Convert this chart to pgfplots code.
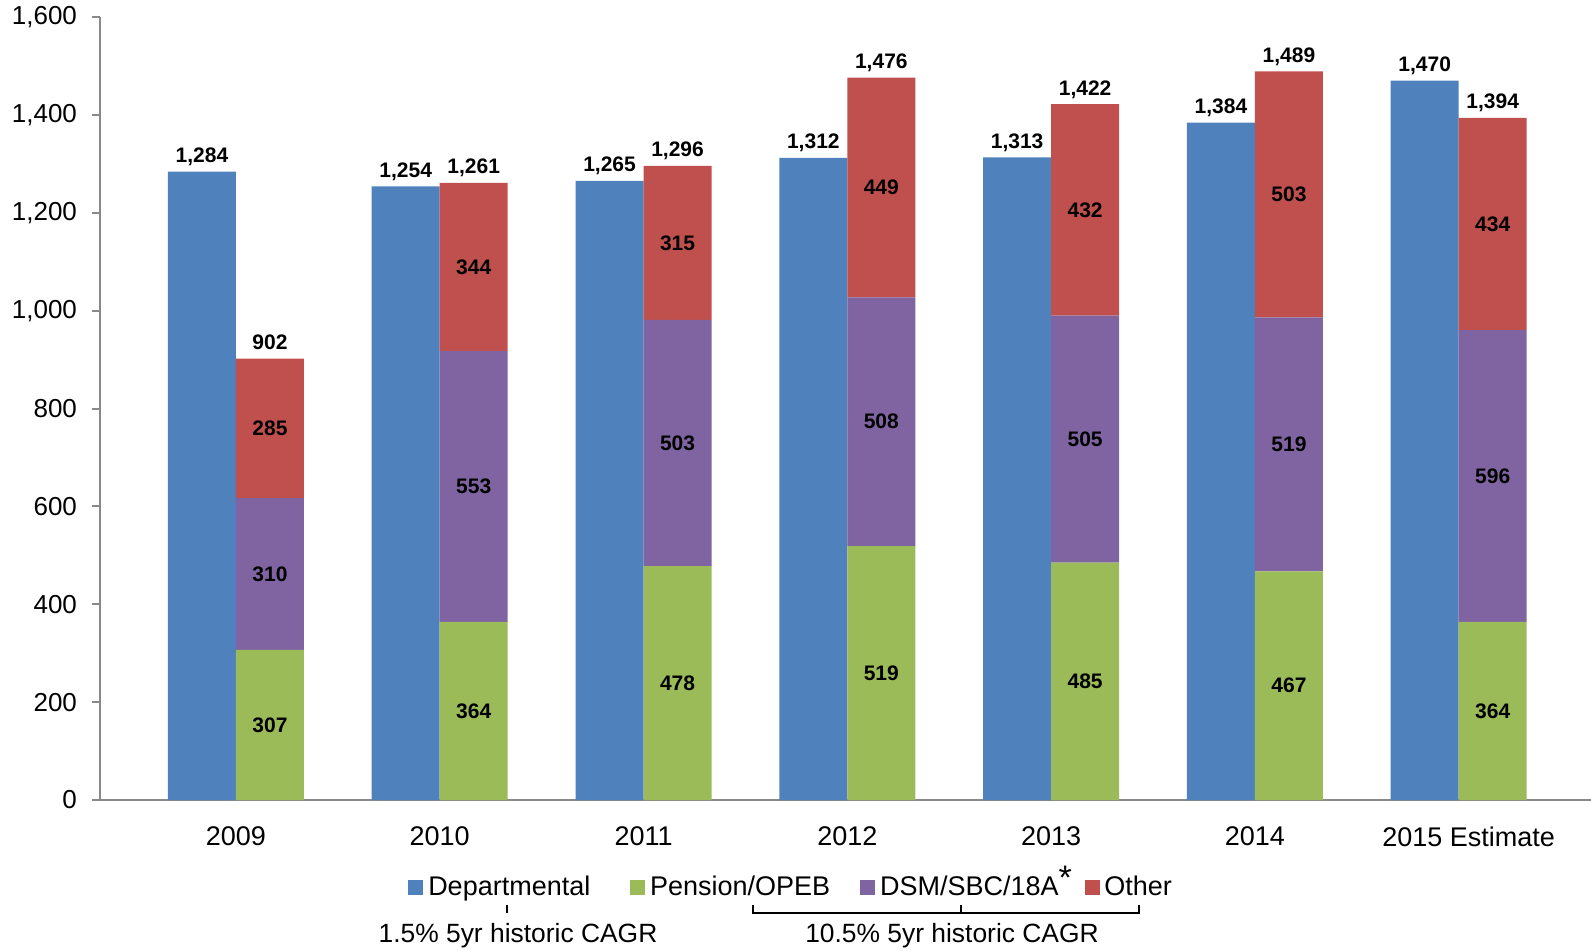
\documentclass[border=0pt]{standalone}
\usepackage{fontspec}
\setmainfont{Liberation Sans}
\usepackage{pgfplots}
\pgfplotsset{compat=1.18}
\definecolor{c1}{HTML}{4F81BD}
\definecolor{c2}{HTML}{9BBB59}
\definecolor{c3}{HTML}{8064A2}
\definecolor{c4}{HTML}{C0504D}
\definecolor{axgray}{HTML}{898989}
\pgfkeys{/pgf/number format/.cd, assume math mode=true, fixed, precision=0, 1000 sep={,}}
\newcommand{\lbl}{\fontsize{10.5}{12}\selectfont\bfseries}
\newcommand{\txt}{\fontsize{13.5}{16}\selectfont}
\newcommand{\ctxt}{\fontsize{13.2}{16}\selectfont}
\newcommand{\ytxt}{\fontsize{13}{15}\selectfont}
\pgfplotsset{
  base/.style={
    at={(0pt,0pt)}, anchor=south west,
    scale only axis, width=745.5pt, height=391.5pt,
    xmin=-0.667, xmax=6.649, ymin=0, ymax=1600,
    enlargelimits=false, clip=false,
  },
  sq/.style={legend image code/.code={\fill[#1] (0pt,-3.5pt) rectangle (7pt,3.5pt);}},
}
\begin{document}
\begin{tikzpicture}
% Departmental bars + visible axes
\begin{axis}[base,
  ybar, bar width=34pt,
  axis x line*=bottom, axis y line*=left,
  axis line style={axgray, line width=1pt},
  ytick={0,200,...,1600},
  ytick style={axgray, line width=1pt},
  tick align=outside, major tick length=4pt,
  xtick={0,1,2,3,4,5,6.049},
  xticklabels={2009,2010,2011,2012,2013,2014,2015 Estimate},
  xtick style={draw=none},
  xticklabel style={font=\txt, yshift=-5.8pt},
  yticklabel style={font=\ytxt, xshift=-4pt},
]
\addplot[ybar, fill=c1, draw=none, bar shift=-17pt] coordinates {(0,1284)(1,1254)(2,1265)(3,1312)(4,1313)(5,1384)(6,1470)};
\end{axis}
% Stacked bars
\begin{axis}[base, hide axis, ybar stacked, bar width=34pt]
\addplot[fill=c2, draw=none, bar shift=17pt] coordinates {(0,307)(1,364)(2,478)(3,519)(4,485)(5,467)(6,364)};
\addplot[fill=c3, draw=none, bar shift=17pt] coordinates {(0,310)(1,553)(2,503)(3,508)(4,505)(5,519)(6,596)};
\addplot[fill=c4, draw=none, bar shift=17pt] coordinates {(0,285)(1,344)(2,315)(3,449)(4,432)(5,503)(6,434)};
\end{axis}
% Labels and legend
\begin{axis}[base, hide axis,
  legend columns=4,
  legend style={at={(0.2066,-0.112)}, anchor=west, draw=none, fill=none,
    font=\txt, inner sep=0pt, nodes={inner sep=1pt},
    /tikz/every odd column/.append style={column sep=1.5pt},
    /tikz/column 2/.append style={column sep=19pt},
    /tikz/column 4/.append style={column sep=14pt},
    /tikz/column 6/.append style={column sep=12pt}},
]
\addlegendimage{sq=c1}\addlegendentry{Departmental}
\addlegendimage{sq=c2}\addlegendentry{Pension/OPEB}
\addlegendimage{sq=c3}\addlegendentry{DSM/SBC/18A\smash{\rlap{\raisebox{0.45ex}{\fontsize{17}{17}\selectfont *}}}}
\addlegendimage{sq=c4}\addlegendentry{Other}
% totals
\addplot[forget plot, draw=none, mark=none,
  point meta=explicit, nodes near coords,
  every node near coord/.append style={anchor=base, yshift=4.5pt, font=\lbl, inner sep=0pt}]
  coordinates {
  (-0.1668,1284)[1284] (0.8332,1254)[1254] (1.8332,1265)[1265] (2.8332,1312)[1312]
  (3.8332,1313)[1313] (4.8332,1384)[1384] (5.8332,1470)[1470]
  (0.1668,902)[902] (1.1668,1261)[1261] (2.1668,1296)[1296] (3.1668,1476)[1476]
  (4.1668,1422)[1422] (5.1668,1489)[1489] (6.1668,1394)[1394]};
% segment values
\addplot[forget plot, draw=none, mark=none,
  point meta=explicit, nodes near coords,
  every node near coord/.append style={anchor=center, font=\lbl, inner sep=0pt}]
  coordinates {
  (0.1668,153.5)[307] (0.1668,462)[310] (0.1668,759.5)[285]
  (1.1668,182)[364] (1.1668,640.5)[553] (1.1668,1089)[344]
  (2.1668,239)[478] (2.1668,729.5)[503] (2.1668,1138.5)[315]
  (3.1668,259.5)[519] (3.1668,773)[508] (3.1668,1251.5)[449]
  (4.1668,242.5)[485] (4.1668,737.5)[505] (4.1668,1206)[432]
  (5.1668,233.5)[467] (5.1668,726.5)[519] (5.1668,1237.5)[503]
  (6.1668,182)[364] (6.1668,662)[596] (6.1668,1177)[434]};
\end{axis}
% CAGR annotations
\draw[line width=1pt] (203.5pt,-52.5pt) -- (203.5pt,-56.5pt);
\draw[line width=1pt] (326.5pt,-52.5pt) -- (326.5pt,-56.5pt) -- (519.5pt,-56.5pt) -- (519.5pt,-52.5pt);
\draw[line width=1pt] (430.5pt,-56.5pt) -- (430.5pt,-52.5pt);
\node[font=\ctxt, anchor=base, inner sep=0pt] at (209pt,-71pt) {1.5\% 5yr historic CAGR};
\node[font=\ctxt, anchor=base, inner sep=0pt] at (426pt,-71pt) {10.5\% 5yr historic CAGR};
\pgfresetboundingbox
\path (-50pt,-75pt) rectangle (745.5pt,400pt);
\end{tikzpicture}
\end{document}
